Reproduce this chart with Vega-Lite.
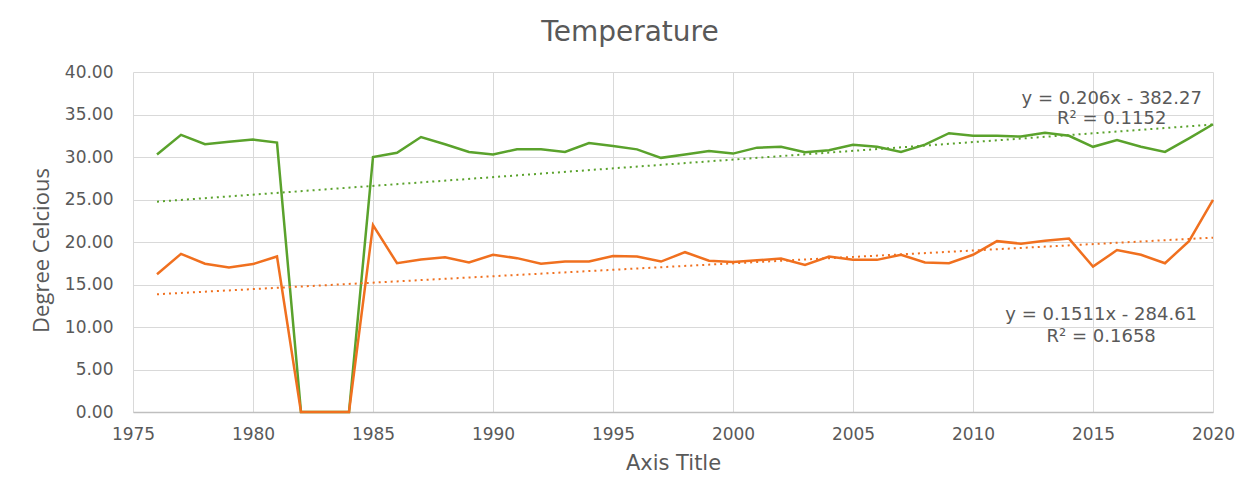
{
  "$schema": "https://vega.github.io/schema/vega-lite/v6.json",
  "width": 1080,
  "height": 340,
  "autosize": {"type": "none"},
  "padding": {"left": 133, "top": 72, "right": 45, "bottom": 82},
  "background": "white",
  "title": {
    "text": "Temperature",
    "font": "DejaVu Sans",
    "fontSize": 28,
    "fontWeight": "normal",
    "color": "#595959",
    "anchor": "middle",
    "dx": -43,
    "offset": 16
  },
  "config": {
    "view": {"stroke": null},
    "axis": {
      "labelFont": "DejaVu Sans",
      "labelFontSize": 17,
      "labelColor": "#595959",
      "titleColor": "#595959",
      "titleFontWeight": "normal",
      "gridColor": "#d9d9d9",
      "gridWidth": 1,
      "ticks": false,
      "labelFlush": false
    }
  },
  "data": {
    "values": [
      {"year": 1976, "series": "Max", "value": 30.3},
      {"year": 1977, "series": "Max", "value": 32.6},
      {"year": 1978, "series": "Max", "value": 31.5},
      {"year": 1979, "series": "Max", "value": 31.8},
      {"year": 1980, "series": "Max", "value": 32.05},
      {"year": 1981, "series": "Max", "value": 31.7},
      {"year": 1982, "series": "Max", "value": 0},
      {"year": 1983, "series": "Max", "value": 0},
      {"year": 1984, "series": "Max", "value": 0},
      {"year": 1985, "series": "Max", "value": 30.0},
      {"year": 1986, "series": "Max", "value": 30.5},
      {"year": 1987, "series": "Max", "value": 32.35},
      {"year": 1988, "series": "Max", "value": 31.5},
      {"year": 1989, "series": "Max", "value": 30.6},
      {"year": 1990, "series": "Max", "value": 30.3},
      {"year": 1991, "series": "Max", "value": 30.9},
      {"year": 1992, "series": "Max", "value": 30.9},
      {"year": 1993, "series": "Max", "value": 30.6},
      {"year": 1994, "series": "Max", "value": 31.65},
      {"year": 1995, "series": "Max", "value": 31.3},
      {"year": 1996, "series": "Max", "value": 30.9},
      {"year": 1997, "series": "Max", "value": 29.9},
      {"year": 1998, "series": "Max", "value": 30.3},
      {"year": 1999, "series": "Max", "value": 30.7},
      {"year": 2000, "series": "Max", "value": 30.4},
      {"year": 2001, "series": "Max", "value": 31.1},
      {"year": 2002, "series": "Max", "value": 31.2},
      {"year": 2003, "series": "Max", "value": 30.55},
      {"year": 2004, "series": "Max", "value": 30.8},
      {"year": 2005, "series": "Max", "value": 31.45},
      {"year": 2006, "series": "Max", "value": 31.2},
      {"year": 2007, "series": "Max", "value": 30.6},
      {"year": 2008, "series": "Max", "value": 31.45},
      {"year": 2009, "series": "Max", "value": 32.8},
      {"year": 2010, "series": "Max", "value": 32.5},
      {"year": 2011, "series": "Max", "value": 32.5},
      {"year": 2012, "series": "Max", "value": 32.4},
      {"year": 2013, "series": "Max", "value": 32.85},
      {"year": 2014, "series": "Max", "value": 32.5},
      {"year": 2015, "series": "Max", "value": 31.2},
      {"year": 2016, "series": "Max", "value": 32.0},
      {"year": 2017, "series": "Max", "value": 31.2},
      {"year": 2018, "series": "Max", "value": 30.6},
      {"year": 2019, "series": "Max", "value": 32.2},
      {"year": 2020, "series": "Max", "value": 33.85},
      {"year": 1976, "series": "Min", "value": 16.2},
      {"year": 1977, "series": "Min", "value": 18.6},
      {"year": 1978, "series": "Min", "value": 17.45},
      {"year": 1979, "series": "Min", "value": 17.0},
      {"year": 1980, "series": "Min", "value": 17.4},
      {"year": 1981, "series": "Min", "value": 18.3},
      {"year": 1982, "series": "Min", "value": 0},
      {"year": 1983, "series": "Min", "value": 0},
      {"year": 1984, "series": "Min", "value": 0},
      {"year": 1985, "series": "Min", "value": 22.0},
      {"year": 1986, "series": "Min", "value": 17.5},
      {"year": 1987, "series": "Min", "value": 17.95},
      {"year": 1988, "series": "Min", "value": 18.2},
      {"year": 1989, "series": "Min", "value": 17.6},
      {"year": 1990, "series": "Min", "value": 18.5},
      {"year": 1991, "series": "Min", "value": 18.1},
      {"year": 1992, "series": "Min", "value": 17.45},
      {"year": 1993, "series": "Min", "value": 17.7},
      {"year": 1994, "series": "Min", "value": 17.7},
      {"year": 1995, "series": "Min", "value": 18.35},
      {"year": 1996, "series": "Min", "value": 18.3},
      {"year": 1997, "series": "Min", "value": 17.7},
      {"year": 1998, "series": "Min", "value": 18.8},
      {"year": 1999, "series": "Min", "value": 17.8},
      {"year": 2000, "series": "Min", "value": 17.65},
      {"year": 2001, "series": "Min", "value": 17.85},
      {"year": 2002, "series": "Min", "value": 18.05},
      {"year": 2003, "series": "Min", "value": 17.3},
      {"year": 2004, "series": "Min", "value": 18.3},
      {"year": 2005, "series": "Min", "value": 17.9},
      {"year": 2006, "series": "Min", "value": 17.9},
      {"year": 2007, "series": "Min", "value": 18.5},
      {"year": 2008, "series": "Min", "value": 17.6},
      {"year": 2009, "series": "Min", "value": 17.5},
      {"year": 2010, "series": "Min", "value": 18.5},
      {"year": 2011, "series": "Min", "value": 20.1},
      {"year": 2012, "series": "Min", "value": 19.8},
      {"year": 2013, "series": "Min", "value": 20.15},
      {"year": 2014, "series": "Min", "value": 20.4},
      {"year": 2015, "series": "Min", "value": 17.1},
      {"year": 2016, "series": "Min", "value": 19.05},
      {"year": 2017, "series": "Min", "value": 18.5},
      {"year": 2018, "series": "Min", "value": 17.5},
      {"year": 2019, "series": "Min", "value": 20.1},
      {"year": 2020, "series": "Min", "value": 24.95}
    ]
  },
  "layer": [
    {
      "mark": {"type": "line", "strokeWidth": 2.5},
      "encoding": {
        "x": {
          "field": "year",
          "type": "quantitative",
          "scale": {"domain": [1975, 2020], "nice": false, "zero": false},
          "axis": {
            "values": [1975, 1980, 1985, 1990, 1995, 2000, 2005, 2010, 2015, 2020],
            "format": "d",
            "title": "Axis Title",
            "titleFont": "DejaVu Sans",
            "titleFontSize": 21,
            "titleBaseline": "alphabetic",
            "titleY": 57,
            "labelPadding": 14,
            "domainColor": "#bfbfbf",
            "domainWidth": 1.5
          }
        },
        "y": {
          "field": "value",
          "type": "quantitative",
          "scale": {"domain": [0, 40], "nice": false},
          "axis": {
            "values": [0, 5, 10, 15, 20, 25, 30, 35, 40],
            "format": ".2f",
            "title": "Degree Celcious",
            "titleFont": "Open Sans",
            "titleFontSize": 22,
            "titleBaseline": "middle",
            "titleX": -92,
            "titleY": 178,
            "labelPadding": 20,
            "domain": false
          }
        },
        "color": {
          "field": "series",
          "type": "nominal",
          "scale": {"domain": ["Max", "Min"], "range": ["#5aa22c", "#f0701f"]},
          "legend": null
        }
      }
    },
    {
      "transform": [
        {"regression": "value", "on": "year", "groupby": ["series"], "extent": [1976, 2020]}
      ],
      "mark": {"type": "line", "strokeWidth": 2, "strokeDash": [2, 4]},
      "encoding": {
        "x": {"field": "year", "type": "quantitative"},
        "y": {"field": "value", "type": "quantitative"},
        "color": {"field": "series", "type": "nominal", "legend": null}
      }
    },
    {
      "data": {"values": [{}]},
      "mark": {"type": "text", "font": "DejaVu Sans", "fontSize": 18, "color": "#595959", "align": "center", "baseline": "middle"},
      "encoding": {
        "x": {"datum": 2015.78, "type": "quantitative"},
        "y": {"datum": 36.87, "type": "quantitative"},
        "text": {"value": "y = 0.206x - 382.27"}
      }
    },
    {
      "data": {"values": [{}]},
      "mark": {"type": "text", "font": "DejaVu Sans", "fontSize": 18, "color": "#595959", "align": "center", "baseline": "middle"},
      "encoding": {
        "x": {"datum": 2015.78, "type": "quantitative"},
        "y": {"datum": 34.44, "type": "quantitative"},
        "text": {"value": "R² = 0.1152"}
      }
    },
    {
      "data": {"values": [{}]},
      "mark": {"type": "text", "font": "DejaVu Sans", "fontSize": 18, "color": "#595959", "align": "center", "baseline": "middle"},
      "encoding": {
        "x": {"datum": 2015.34, "type": "quantitative"},
        "y": {"datum": 11.38, "type": "quantitative"},
        "text": {"value": "y = 0.1511x - 284.61"}
      }
    },
    {
      "data": {"values": [{}]},
      "mark": {"type": "text", "font": "DejaVu Sans", "fontSize": 18, "color": "#595959", "align": "center", "baseline": "middle"},
      "encoding": {
        "x": {"datum": 2015.34, "type": "quantitative"},
        "y": {"datum": 8.79, "type": "quantitative"},
        "text": {"value": "R² = 0.1658"}
      }
    }
  ]
}
